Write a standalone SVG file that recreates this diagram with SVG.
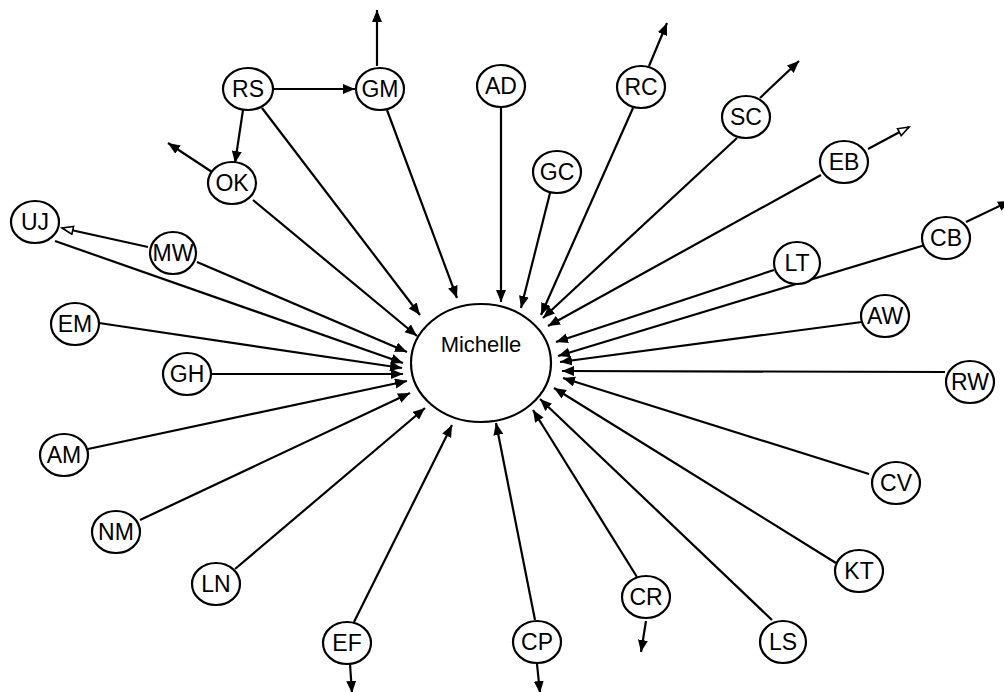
<svg xmlns="http://www.w3.org/2000/svg" width="1004" height="692" viewBox="0 0 1004 692">
  <style>
    .node ellipse { fill: #fff; stroke: #000; stroke-width: 2.2; }
    .node text { font-family: "Liberation Sans", Arial, sans-serif; font-size: 23px; fill: #000; text-anchor: middle; }
    .hub text { font-size: 22px; }
    #connectors path { fill: none; stroke: #000; stroke-width: 2.2; marker-end: url(#arrow); }
    #connectors path.open { marker-end: url(#arrow-open); }
  </style>
  <defs>
    <marker id="arrow" markerUnits="userSpaceOnUse" markerWidth="14" markerHeight="12" refX="12" refY="5" orient="auto">
      <path d="M0,0 L12,5 L0,10 Z" fill="#000"/>
    </marker>
    <marker id="arrow-open" markerUnits="userSpaceOnUse" markerWidth="14" markerHeight="12" refX="12" refY="5" orient="auto">
      <path d="M1,1 L12,5 L1,9 Z" fill="#fff" stroke="#000" stroke-width="1.6"/>
    </marker>
  </defs>
  <rect width="1004" height="692" fill="#fff"/>

  <g id="connectors">
    <!-- ties into the hub -->
    <path d="M262,108 L420,315"/>
    <path d="M387,110 L457,298"/>
    <path d="M501,108 L501,302"/>
    <path d="M550,193 L521,308"/>
    <path d="M633,108 L541,315"/>
    <path d="M737,138 L543,318"/>
    <path d="M821,175 L548,326"/>
    <path d="M774,270 L556,342"/>
    <path d="M925,245 L558,356"/>
    <path d="M862,322 L560,362"/>
    <path d="M945,372 L562,371"/>
    <path d="M869,474 L563,378"/>
    <path d="M836,563 L554,388"/>
    <path d="M772,620 L540,399"/>
    <path d="M637,577 L533,410"/>
    <path d="M535,620 L496,423"/>
    <path d="M354,622 L452,425"/>
    <path d="M235,569 L425,408"/>
    <path d="M140,520 L410,393"/>
    <path d="M88,449 L407,381"/>
    <path d="M212,374 L403,374"/>
    <path d="M99,323 L402,368"/>
    <path d="M55,241 L403,363"/>
    <path d="M197,262 L407,352"/>
    <path d="M253,200 L417,336"/>
    <!-- other ties -->
    <path d="M273,89 L355,89"/>
    <path d="M243,110 L235,163"/>
    <path d="M212,172 L168,143"/>
    <path d="M377,66 L377,10"/>
    <path d="M649,66 L667,23"/>
    <path d="M760,98 L799,61"/>
    <path class="open" d="M868,149 L909,127"/>
    <path class="open" d="M148,247 L62,228"/>
    <path d="M646,621 L641,652"/>
    <path d="M537,664 L540,693"/>
    <path d="M350,664 L352,693"/>
    <path d="M966,222 L1010,201"/>
  </g>

  <g id="michelle" class="node hub"><ellipse cx="481" cy="363" rx="70" ry="59"/><text x="481" y="352">Michelle</text></g>
  <g id="rs" class="node"><ellipse cx="248" cy="89" rx="25" ry="21"/><text x="248" y="97">RS</text></g>
  <g id="gm" class="node"><ellipse cx="380" cy="89" rx="24" ry="21"/><text x="380" y="97">GM</text></g>
  <g id="ok" class="node"><ellipse cx="232" cy="183" rx="24" ry="21"/><text x="232" y="191">OK</text></g>
  <g id="ad" class="node"><ellipse cx="501" cy="86" rx="24" ry="21"/><text x="501" y="94">AD</text></g>
  <g id="rc" class="node"><ellipse cx="641" cy="87" rx="24" ry="21"/><text x="641" y="95">RC</text></g>
  <g id="gc" class="node"><ellipse cx="557" cy="172" rx="24" ry="21"/><text x="557" y="180">GC</text></g>
  <g id="sc" class="node"><ellipse cx="746" cy="117" rx="24" ry="21"/><text x="746" y="125">SC</text></g>
  <g id="eb" class="node"><ellipse cx="844" cy="162" rx="24" ry="21"/><text x="844" y="170">EB</text></g>
  <g id="cb" class="node"><ellipse cx="946" cy="238" rx="24" ry="21"/><text x="946" y="246">CB</text></g>
  <g id="lt" class="node"><ellipse cx="797" cy="263" rx="23" ry="21"/><text x="797" y="271">LT</text></g>
  <g id="aw" class="node"><ellipse cx="885" cy="316" rx="24" ry="21"/><text x="885" y="324">AW</text></g>
  <g id="rw" class="node"><ellipse cx="970" cy="382" rx="24" ry="21"/><text x="970" y="390">RW</text></g>
  <g id="cv" class="node"><ellipse cx="896" cy="483" rx="24" ry="21"/><text x="896" y="491">CV</text></g>
  <g id="kt" class="node"><ellipse cx="859" cy="571" rx="24" ry="21"/><text x="859" y="579">KT</text></g>
  <g id="ls" class="node"><ellipse cx="783" cy="642" rx="23" ry="21"/><text x="783" y="650">LS</text></g>
  <g id="cr" class="node"><ellipse cx="646" cy="597" rx="24" ry="21"/><text x="646" y="605">CR</text></g>
  <g id="cp" class="node"><ellipse cx="537" cy="642" rx="24" ry="21"/><text x="537" y="650">CP</text></g>
  <g id="ef" class="node"><ellipse cx="347" cy="643" rx="24" ry="21"/><text x="347" y="651">EF</text></g>
  <g id="ln" class="node"><ellipse cx="216" cy="584" rx="24" ry="21"/><text x="216" y="592">LN</text></g>
  <g id="nm" class="node"><ellipse cx="116" cy="532" rx="24" ry="21"/><text x="116" y="540">NM</text></g>
  <g id="am" class="node"><ellipse cx="64" cy="455" rx="24" ry="21"/><text x="64" y="463">AM</text></g>
  <g id="gh" class="node"><ellipse cx="187" cy="374" rx="24" ry="21"/><text x="187" y="382">GH</text></g>
  <g id="em" class="node"><ellipse cx="75" cy="324" rx="24" ry="21"/><text x="75" y="332">EM</text></g>
  <g id="uj" class="node"><ellipse cx="35" cy="222" rx="24" ry="21"/><text x="35" y="230">UJ</text></g>
  <g id="mw" class="node"><ellipse cx="173" cy="253" rx="23" ry="21"/><text x="173" y="261">MW</text></g>
</svg>
